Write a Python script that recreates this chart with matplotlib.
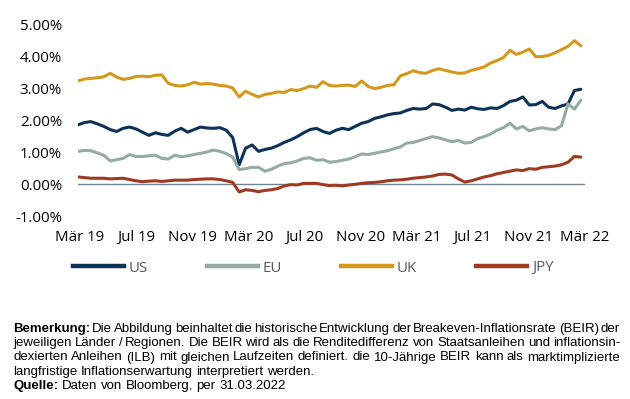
import numpy as np
import pandas as pd
import matplotlib
matplotlib.use("Agg")
import matplotlib.pyplot as plt
from matplotlib.lines import Line2D

# Datum: alle 14 Tage, Ende Maerz 2019 bis Ende Maerz 2022
dates = pd.date_range("2019-03-27", periods=79, freq="14D")

us = [1.85, 1.92, 1.95, 1.88, 1.80, 1.70, 1.64, 1.74, 1.78, 1.72,
      1.62, 1.52, 1.60, 1.55, 1.52, 1.65, 1.74, 1.62, 1.70, 1.78,
      1.75, 1.74, 1.76, 1.68, 1.45, 0.60, 1.12, 1.22, 1.02, 1.08,
      1.12, 1.20, 1.30, 1.38, 1.48, 1.60, 1.70, 1.74, 1.64, 1.58,
      1.68, 1.74, 1.70, 1.80, 1.90, 1.95, 2.05, 2.10, 2.16, 2.20,
      2.22, 2.30, 2.36, 2.34, 2.36, 2.50, 2.48, 2.40, 2.30, 2.34,
      2.31, 2.40, 2.35, 2.33, 2.38, 2.36, 2.45, 2.58, 2.62, 2.72,
      2.47, 2.48, 2.58, 2.40, 2.36, 2.44, 2.50, 2.92, 2.96]

eu = [1.02, 1.05, 1.04, 0.97, 0.90, 0.72, 0.76, 0.80, 0.92, 0.86,
      0.86, 0.88, 0.90, 0.80, 0.78, 0.90, 0.85, 0.88, 0.92, 0.96,
      1.00, 1.06, 1.02, 0.95, 0.84, 0.45, 0.48, 0.52, 0.52, 0.40,
      0.46, 0.56, 0.64, 0.66, 0.72, 0.80, 0.82, 0.74, 0.76, 0.68,
      0.70, 0.74, 0.78, 0.85, 0.94, 0.92, 0.96, 1.00, 1.04, 1.10,
      1.16, 1.28, 1.30, 1.36, 1.42, 1.48, 1.44, 1.38, 1.32, 1.36,
      1.28, 1.30, 1.42, 1.48, 1.56, 1.68, 1.76, 1.90, 1.72, 1.80,
      1.66, 1.72, 1.76, 1.72, 1.70, 1.82, 2.50, 2.34, 2.62]

uk = [3.22, 3.28, 3.30, 3.32, 3.35, 3.46, 3.34, 3.27, 3.30, 3.36,
      3.37, 3.35, 3.40, 3.41, 3.15, 3.08, 3.06, 3.10, 3.18, 3.12,
      3.14, 3.12, 3.08, 3.06, 3.00, 2.72, 2.90, 2.80, 2.72, 2.80,
      2.83, 2.88, 2.86, 2.95, 2.92, 2.98, 3.06, 3.02, 3.20, 3.08,
      3.06, 3.08, 3.09, 3.05, 3.22, 3.05, 2.98, 3.02, 3.08, 3.10,
      3.38, 3.45, 3.54, 3.48, 3.46, 3.55, 3.60, 3.55, 3.50, 3.46,
      3.47, 3.55, 3.60, 3.66, 3.78, 3.86, 3.95, 4.18, 4.05, 4.12,
      4.22, 3.98, 3.98, 4.02, 4.10, 4.20, 4.30, 4.48, 4.32]

jpy = [0.22, 0.20, 0.18, 0.18, 0.18, 0.16, 0.17, 0.18, 0.14, 0.10,
       0.07, 0.09, 0.10, 0.08, 0.10, 0.12, 0.12, 0.12, 0.14, 0.15,
       0.16, 0.16, 0.14, 0.10, 0.05, -0.25, -0.18, -0.20, -0.24, -0.20,
       -0.18, -0.14, -0.06, -0.02, -0.03, 0.02, 0.02, 0.02, -0.02, -0.05,
       -0.04, -0.06, -0.03, -0.01, 0.02, 0.04, 0.05, 0.07, 0.10, 0.12,
       0.13, 0.15, 0.18, 0.20, 0.22, 0.25, 0.30, 0.31, 0.28, 0.16,
       0.06, 0.10, 0.16, 0.22, 0.26, 0.32, 0.36, 0.40, 0.44, 0.42,
       0.48, 0.46, 0.52, 0.54, 0.56, 0.60, 0.68, 0.86, 0.84]

series = ["US", "EU", "UK", "JPY"]
colors = ["#0d3257", "#94aca1", "#d3991c", "#9e3a22"]

tick_dates = pd.date_range("2019-03-31", "2022-03-31", freq="4ME")
tick_labels = ["Mär 19", "Jul 19", "Nov 19", "Mär 20", "Jul 20",
               "Nov 20", "Mär 21", "Jul 21", "Nov 21", "Mär 22"]
y_ticks = [-1, 0, 1, 2, 3, 4, 5]

fig = plt.figure(figsize=(6.3, 3.99), dpi=100)
ax = fig.add_axes([78 / 630, 1 - 216 / 399, 507 / 630, 192 / 399])

for vals, c in zip([us, eu, uk, jpy], colors):
    ax.plot(dates, vals, color=c, lw=2.2, solid_capstyle="round")

ax.axhline(0, color="#6e8596", lw=1.0, zorder=0)
ax.set_ylim(-1, 5)
ax.set_xlim(pd.Timestamp("2019-03-27"), pd.Timestamp("2022-04-01"))
ax.set_yticks(y_ticks)
ax.set_yticklabels(["%.2f%%" % v for v in y_ticks])
ax.set_xticks(tick_dates)
ax.set_xticklabels(tick_labels)
for s in ax.spines.values():
    s.set_visible(False)
ax.tick_params(axis="y", length=0, pad=11.5, labelsize=10.8)
ax.tick_params(axis="x", length=0, pad=10, labelsize=10.8)
for lab in ax.get_xticklabels() + ax.get_yticklabels():
    lab.set_family("Open Sans")
    lab.set_color("black")

# Legende
handles = [Line2D([], [], color=c, lw=3.2) for c in colors]
leg = fig.legend(handles, series, loc="center", bbox_to_anchor=(0.497, 1 - 268 / 399),
                 ncol=4, frameon=False, handlelength=3.4, handletextpad=0.35,
                 columnspacing=3.9, prop={"family": "Open Sans", "size": 10.8})
for t in leg.get_texts():
    t.set_color("#595959")

# Fussnote, Blocksatz
FS = 9.5
FAM = ["Liberation Sans", "DejaVu Sans"]
lines = [
    ([("Bemerkung:", True)] + [(w, False) for w in "Die Abbildung beinhaltet die historische Entwicklung der Breakeven-Inflationsrate (BEIR) der".split()], True),
    ([(w, False) for w in "jeweiligen Länder / Regionen. Die BEIR wird als die Renditedifferenz von Staatsanleihen und inflationsin-".split()], True),
    ([(w, False) for w in "dexierten Anleihen (ILB) mit gleichen Laufzeiten definiert. die 10-Jährige BEIR kann als marktimplizierte".split()], True),
    ([(w, False) for w in "langfristige Inflationserwartung interpretiert werden.".split()], False),
    ([("Quelle:", True)] + [(w, False) for w in "Daten von Bloomberg, per 31.03.2022".split()], False),
]
baselines = [331.7, 346.1, 360.5, 374.9, 389.3]
x0, x1 = 13.0, 620.0

r = fig.canvas.get_renderer()
sp = fig.text(0, 0, "a a", fontsize=FS, family=FAM)
sp2 = fig.text(0, 0, "aa", fontsize=FS, family=FAM)
space_w = sp.get_window_extent(r).width - sp2.get_window_extent(r).width
sp.remove()
sp2.remove()

for (words, justify), yb in zip(lines, baselines):
    texts = [fig.text(0, 1 - yb / 399, w, fontsize=FS, family=FAM,
                      fontweight="bold" if b else "normal", va="baseline", color="black")
             for w, b in words]
    widths = [t.get_window_extent(r).width for t in texts]
    if justify:
        gap = (x1 - x0 - sum(widths)) / (len(texts) - 1)
    else:
        gap = space_w
    x = x0
    for t, w in zip(texts, widths):
        t.set_x(x / 630)
        x += w + gap

fig.savefig("out.png", dpi=100)
